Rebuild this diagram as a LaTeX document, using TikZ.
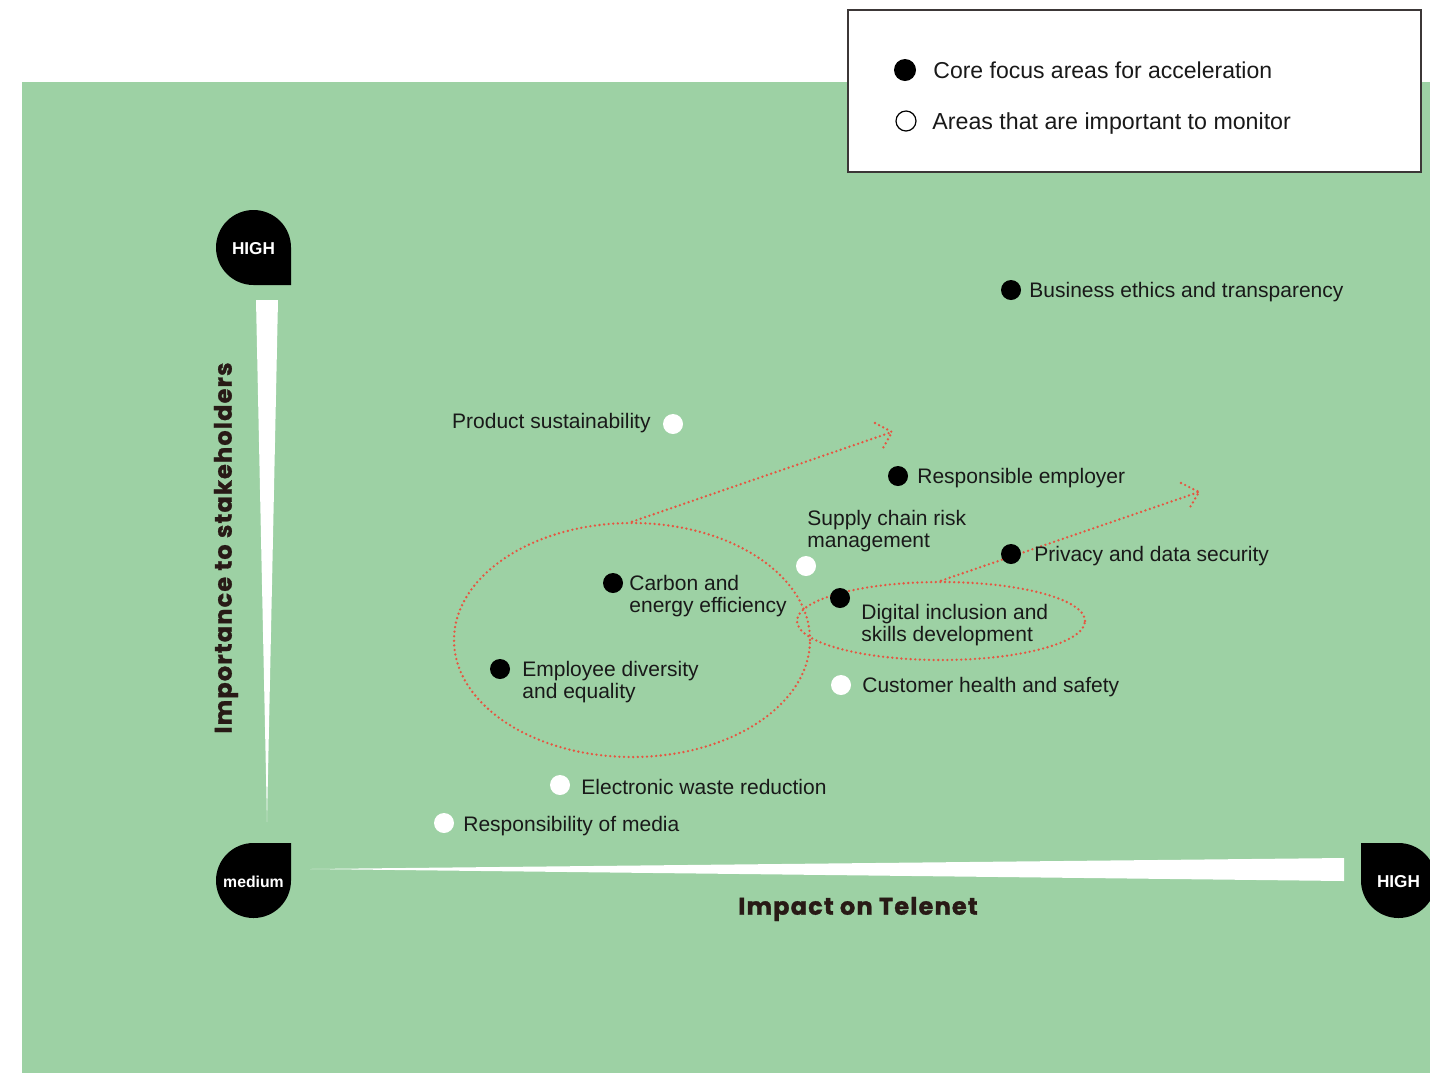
\documentclass[tikz,border=0pt]{standalone}
\usepackage{fontspec}
\setmainfont{Liberation Sans}
\newfontfamily\axisfont[LetterSpace=5,BoldFeatures={FakeBold=1.2}]{Poppins}
\usetikzlibrary{shapes.geometric}
\definecolor{bggreen}{RGB}{157,209,164}
\definecolor{dotred}{RGB}{230,85,65}
\definecolor{axisbrown}{RGB}{40,26,22}
\definecolor{txt}{RGB}{25,25,25}
\begin{document}
\begin{tikzpicture}[x=0.5pt,y=-0.5pt,
  fdot/.style={circle,fill=black,minimum size=10pt,inner sep=0pt},
  wdot/.style={circle,fill=white,minimum size=10pt,inner sep=0pt},
  lbl/.style={anchor=base west,inner sep=0pt,text=txt,font=\fontsize{10.5}{11}\selectfont},
  lbll/.style={anchor=base east,inner sep=0pt,text=txt,font=\fontsize{10.5}{11}\selectfont},
  reddot/.style={draw=dotred,line width=1.3pt,dash pattern=on 0pt off 2.3pt,line cap=round},
  tear/.style={fill=black},
  teartxt/.style={text=white,font=\fontsize{8.6}{9}\selectfont\bfseries,inner sep=0pt},
  axistxt/.style={text=axisbrown,font=\axisfont\fontsize{12}{14}\selectfont\bfseries,inner sep=0pt}]
\useasboundingbox (0,0) rectangle (1430,1073);
\fill[white] (0,0) rectangle (1430,1073);
\fill[bggreen] (22,82) rectangle (1430,1073);

% legend
\node[draw={rgb,255:red,60;green,55;blue,55},line width=0.7pt,fill=white,minimum width=286.5pt,minimum height=81pt,inner sep=0pt] (legend) at (1134.5,91) {};
\node[circle,fill=black,minimum size=11pt,inner sep=0pt] (lgf) at (905,70) {};
\node[lbl,font=\fontsize{11.5}{12}\selectfont] (lgft) at (933,78) {Core focus areas for acceleration};
\node[circle,draw=black,line width=0.6pt,fill=white,minimum size=10pt,inner sep=0pt] (lgo) at (906,121) {};
\node[lbl,font=\fontsize{11.6}{12}\selectfont] (lgot) at (932,129) {Areas that are important to monitor};

% axes wedges
\fill[white] (256,300) -- (278,300) -- (267,822) -- cycle;
\fill[white] (310,869) -- (1344,858) -- (1344,881) -- cycle;

% teardrops
\fill[tear] (291,247.5) -- (291,285) -- (253.5,285) arc[start angle=90,end angle=360,radius=37.5] -- cycle;
\node[teartxt] (hightop) at (253.5,249) {HIGH};
\fill[tear] (291,880.5) -- (291,843) -- (253.5,843) arc[start angle=270,end angle=0,radius=37.5] -- cycle;
\node[teartxt,font=\fontsize{7.9}{9}\selectfont\bfseries] (medium) at (253.5,882) {medium};
\fill[tear] (1361,880.5) -- (1361,843) -- (1398.5,843) arc[start angle=270,end angle=540,radius=37.5] -- cycle;
\node[teartxt] (highright) at (1398.5,882) {HIGH};

% axis titles
\node[axistxt] (xt) at (858,909) {Impact on Telenet};
\node[axistxt,rotate=90] (yt) at (226,548) {Importance to stakeholders};

% ellipses
\node[ellipse,reddot,minimum width=178pt,minimum height=117pt,inner sep=0pt] (bigell) at (632,640) {};
\node[ellipse,reddot,minimum width=144pt,minimum height=39pt,inner sep=0pt] (smallell) at (941,621) {};
\coordinate (tip1) at (892,432);
\coordinate (tip2) at (1199,492);
\draw[reddot] (bigell.north) -- (tip1);
\draw[reddot] (875,423) -- (tip1) -- (883,448);
\draw[reddot] (smallell.north) -- (tip2);
\draw[reddot] (1181,483) -- (tip2) -- (1189,509);

% dots and labels
\node[fdot] (be) at (1011,290) {};
\node[lbl] at (1029,297) {Business ethics and transparency};
\node[wdot] (ps) at (673,424) {};
\node[lbll] at (651,428) {Product sustainability};
\node[fdot] (re) at (898,476) {};
\node[lbl] at (917,483) {Responsible employer};
\node[lbl] at (807,525) {\begin{tabular}[t]{@{}l@{}}Supply chain risk\\ management\end{tabular}};
\node[wdot] (sc) at (806,566) {};
\node[fdot] (pd) at (1011,554) {};
\node[lbl] at (1034,561) {Privacy and data security};
\node[fdot] (ce) at (613,583) {};
\node[lbl] at (629,590) {\begin{tabular}[t]{@{}l@{}}Carbon and\\ energy efficiency\end{tabular}};
\node[fdot] (di) at (840,598) {};
\node[lbl] at (861,619) {\begin{tabular}[t]{@{}l@{}}Digital inclusion and\\ skills development\end{tabular}};
\node[fdot] (ed) at (500,669) {};
\node[lbl] at (522,676) {\begin{tabular}[t]{@{}l@{}}Employee diversity\\ and equality\end{tabular}};
\node[wdot] (ch) at (841,685) {};
\node[lbl] at (862,692) {Customer health and safety};
\node[wdot] (ew) at (560,785) {};
\node[lbl] at (581,794) {Electronic waste reduction};
\node[wdot] (rm) at (444,823) {};
\node[lbl] at (463,831) {Responsibility of media};
\end{tikzpicture}
\end{document}
